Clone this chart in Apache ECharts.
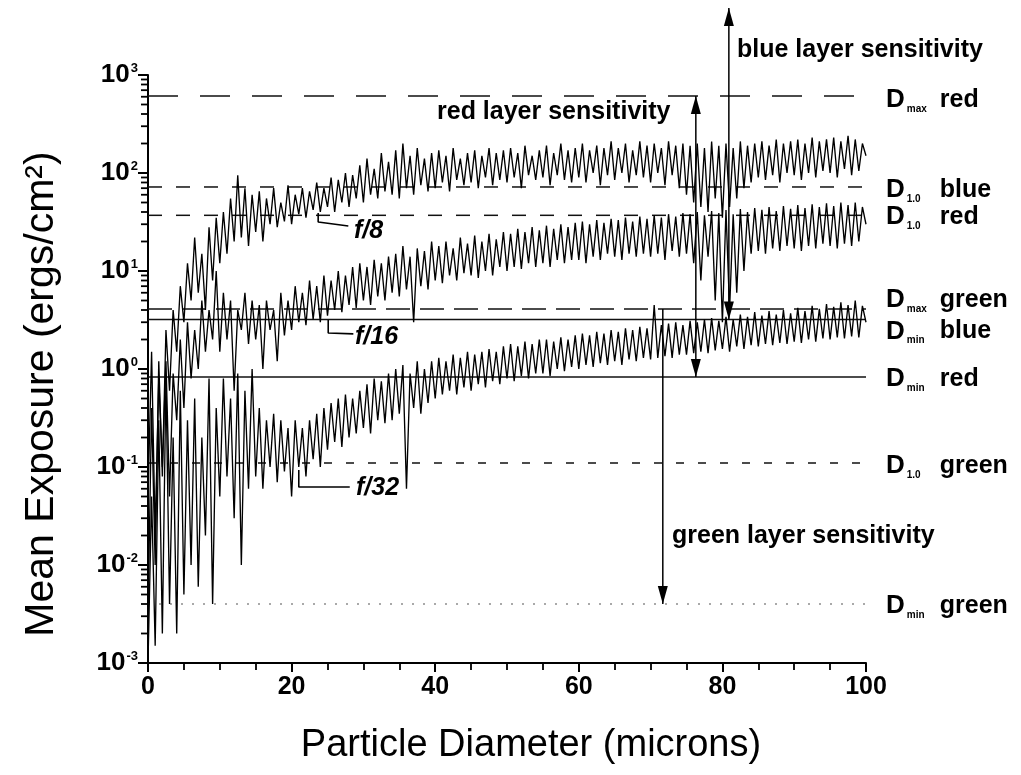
<!DOCTYPE html>
<html><head><meta charset="utf-8">
<script src="https://cdn.jsdelivr.net/npm/echarts@6/dist/echarts.min.js"></script>
<style>html,body{margin:0;padding:0;background:#fff}#c{width:1021px;height:775px}</style>
</head><body><div id="c"></div><script>
// Particle diameter sampling (microns between successive readings)
const diameterStep = 0.5;

// Mean exposure (ergs/cm^2), diameters 0, 0.5, 1 ... 100
const f8 = [
 0.003,0.4,0.01,1.2,0.08,2.5,0.6,4,1.5,7,
 3,12,5,22,6,15,4,28,8,35,
 12,40,15,55,20,95,22,70,18,60,
 25,65,20,55,30,70,28,50,32,75,
 30,60,38,70,35,65,42,80,40,70,
 45,90,40,85,50,100,45,95,55,120,
 50,140,60,110,55,160,65,130,60,170,
 55,200,70,150,60,180,75,140,65,160,
 70,170,80,150,65,180,85,140,75,160,
 80,170,70,150,90,180,75,160,85,170,
 80,180,90,160,70,190,95,150,85,170,
 90,190,75,160,95,200,85,170,80,180,
 90,200,80,170,100,190,75,180,95,210,
 85,180,100,200,80,170,95,210,90,190,
 80,200,100,180,75,210,95,190,70,200,
 60,190,50,200,45,180,40,210,55,190,
 35,200,45,180,55,210,70,190,80,200,
 90,210,85,190,95,220,80,200,100,210,
 95,220,85,200,100,230,90,210,105,220,
 100,230,90,210,110,240,95,220,105,200,
 150
];
const f16 = [
 0.05,1.5,0.02,0.8,0.1,1.2,0.05,0.9,0.3,2,
 0.4,3,0.8,2.5,1,5,1.5,4,2,10,
 1.5,6,2,5,0.6,4,2.5,6,1.8,5,
 2,4.5,1,5,2.5,4,1.2,6,2.2,5,
 2.5,7,3,6,2.8,8,3.2,7,3,9,
 3.5,8,4,10,3.8,9,4.5,11,4.2,12,
 5,11,4.5,13,5.5,12,5,14,6,15,
 5.5,18,6.5,14,3,17,7,16,6.5,20,
 8,18,7.5,20,9,17,8,22,9.5,19,
 9,23,8.5,20,10,24,9,21,11,25,
 10,24,11,27,10.5,25,12,28,11,26,
 12,29,11,27,13,30,12,28,13,31,
 13,32,12,30,14,33,13,31,15,34,
 14,33,13,35,15,32,14,36,15,34,
 14,37,15,35,13,38,16,36,14,39,
 15,38,12,40,8,37,14,41,5,39,
 3,42,4,38,6,43,10,40,15,44,
 16,42,15,45,17,41,16,46,18,43,
 17,47,16,44,18,48,17,45,19,49,
 18,46,17,50,19,47,18,50,20,45,
 30
];
const f32 = [
 0.001,0.05,0.0015,0.3,0.002,0.8,0.004,0.2,0.002,0.6,
 0.005,0.3,0.01,0.5,0.006,0.2,0.02,0.8,0.004,0.4,
 0.05,0.8,0.08,0.5,0.03,0.9,0.01,0.6,0.06,1,
 0.08,0.4,0.06,0.3,0.1,0.35,0.07,0.3,0.09,0.25,
 0.05,0.3,0.1,0.25,0.08,0.3,0.12,0.35,0.1,0.4,
 0.15,0.45,0.18,0.5,0.16,0.55,0.2,0.5,0.22,0.6,
 0.25,0.7,0.22,0.8,0.3,0.75,0.28,0.9,0.3,1,
 0.35,1.1,0.06,0.9,0.4,1.2,0.35,1,0.45,1.2,
 0.5,1.3,0.55,1.2,0.6,1.4,0.55,1.3,0.65,1.5,
 0.6,1.4,0.7,1.5,0.65,1.6,0.75,1.5,0.7,1.7,
 0.8,1.8,0.75,1.7,0.85,1.9,0.8,1.8,0.9,2,
 0.9,2,0.85,1.9,1,2.1,0.95,2,1.05,2.2,
 1,2.3,1.1,2.2,1.05,2.4,1.15,2.3,1.1,2.5,
 1.2,2.4,1.1,2.6,1.25,2.5,1.2,2.7,1.3,2.6,
 1.25,4.5,1.3,2.8,1.35,2.9,1.3,3,1.4,2.8,
 1.4,3.1,1.45,3,1.5,3.2,1.45,3.3,1.55,3.1,
 1.6,3.4,1.5,3.2,1.7,3.6,1.6,3.4,1.75,3.8,
 1.7,3.5,1.8,3.9,1.75,3.6,1.85,4,1.8,3.7,
 1.9,4.2,1.85,3.9,2,4.4,1.9,4.1,2.05,4.6,
 2,4.3,2.1,4.8,2.05,4.5,2.15,5,2.1,4.4,
 3
];

// Density levels (horizontal reference lines)
const levelNames = ['red','blue','red','green','blue','red','green','green'];
const levelSubs  = ['max','1.0','1.0','max','min','min','1.0','min'];
const levelValues = [611, 72, 37, 4.1, 3.2, 0.83, 0.11, 0.004];

// Tick labels
const xTickValues = [0,20,40,60,80,100];
const yTickExponents = [-3,-2,-1,0,1,2,3];

// Layer sensitivity arrows: [diameter, from exposure, to exposure]
const redArrow = [76.3, 0.83, 611];
const blueArrow = [80.9, 3.2, 4830];
const greenArrow = [71.7, 4.1, 0.004];

// Curve leaders (data coordinates)
const leader8 = [[23.7, 39], [23.7, 31.6], [27.9, 28.8]];
const leader16 = [[25.1, 3.16], [25.1, 2.33], [28.6, 2.28]];
const leader32 = [[21.0, 0.093], [21.0, 0.0625], [28.1, 0.0625]];

const FONT = 'Liberation Sans';
const dashes = [[30,22],[14,14],[14,14],[24,10],'solid','solid',[8,14],[2,9]];
const widths = [1.5,1.5,1.5,1.5,1.6,1.6,1.5,1.2];
const colors = ['#111','#111','#111','#111','#111','#111','#111','#555'];

const chart = echarts.init(document.getElementById('c'), null, {renderer:'canvas'});

// minor log ticks 2..9 of each decade
const minorY = [];
for (let k = -3; k < 3; k++) for (let m = 2; m <= 9; m++) minorY.push(m * Math.pow(10, k));

function curve(arr){ return arr.map((v,i)=>[i*diameterStep, v]); }

const series = [];
[f8, f16, f32].forEach((arr, idx) => {
  series.push({type:'line', name:['f/8','f/16','f/32'][idx], data: curve(arr), showSymbol:false,
    symbol:'none', lineStyle:{color:'#000', width:1.35}, animation:false, silent:true, z:3});
});
levelValues.forEach((v, i) => {
  series.push({type:'line', data:[[0,v],[100,v]], showSymbol:false, symbol:'none',
    lineStyle:{color:colors[i], width:widths[i], type:dashes[i]}, animation:false, silent:true, z:2});
});
[leader8, leader16, leader32].forEach(l => {
  series.push({type:'line', data:l, showSymbol:false, symbol:'none',
    lineStyle:{color:'#000', width:1.6}, animation:false, silent:true, z:4});
});

chart.setOption({
  backgroundColor:'#fff',
  animation:false,
  grid:{left:148, top:75, width:718, height:588, outerBoundsMode:'none', containLabel:false},
  xAxis:{type:'value', min:0, max:100, interval:20,
    axisLine:{lineStyle:{color:'#000', width:2}},
    axisTick:{show:true, length:9, lineStyle:{color:'#000', width:2}},
    minorTick:{show:true, splitNumber:4, length:7, lineStyle:{color:'#000', width:1.8}},
    splitLine:{show:false},
    axisLabel:{margin:12, color:'#000', fontFamily:FONT, fontWeight:'bold', fontSize:25,
      customValues: xTickValues, formatter:v=>String(v)}
  },
  yAxis:{type:'log', logBase:10, min:0.001, max:1000,
    axisLine:{show:true, lineStyle:{color:'#000', width:2}},
    axisTick:{show:true, length:10, lineStyle:{color:'#000', width:2}},
    splitLine:{show:false},
    axisLabel:{margin:10, color:'#000', fontFamily:FONT,
      customValues: yTickExponents.map(e=>Math.pow(10,e)),
      formatter: v => '{b|10}{s|' + Math.round(Math.log10(v)) + '}',
      rich:{b:{fontSize:26, fontWeight:'bold', fontFamily:FONT, color:'#000', lineHeight:26},
            s:{fontSize:13, fontWeight:'bold', fontFamily:FONT, color:'#000', verticalAlign:'top', lineHeight:26, padding:[0,0,12,1]}}}
  },
  series: series
});

function px(x, y){ return chart.convertToPixel({gridIndex:0}, [x, y]); }

const g = [];
// minor y ticks placed through the y axis scale
minorY.forEach(v => {
  const p = px(0, v);
  g.push({type:'line', shape:{x1:p[0]-7, y1:p[1], x2:p[0], y2:p[1]}, style:{stroke:'#000', lineWidth:1.8}, z:9, silent:true});
});

function arrow(a, headFrom, headTo){
  const p1 = px(a[0], a[1]), p2 = px(a[0], a[2]);
  g.push({type:'line', shape:{x1:p1[0], y1:p1[1], x2:p2[0], y2:p2[1]}, style:{stroke:'#000', lineWidth:1.5}, z:10});
  function head(tip, other){
    const dir = tip[1] < other[1] ? 1 : -1;
    const L = 18, W = 5;
    g.push({type:'polygon', shape:{points:[[tip[0], tip[1]], [tip[0]-W, tip[1]+dir*L], [tip[0]+W, tip[1]+dir*L]]},
      style:{fill:'#000'}, z:11});
  }
  if (headFrom) head(p1, p2);
  if (headTo) head(p2, p1);
}
arrow(redArrow, true, true);
arrow(blueArrow, true, true);
arrow(greenArrow, false, true);

const labelOffsets = [4, 3, 2, -9, 12, 2, 3, 2];
levelValues.forEach((v, i) => {
  const p = px(100, v);
  g.push({type:'text', x:886, y:p[1] + labelOffsets[i], z:12,
    style:{text:'{d|D}{s|' + levelSubs[i] + '}{w|' + levelNames[i] + '}', verticalAlign:'middle', align:'left',
      rich:{d:{fontSize:26, fontWeight:'bold', fontFamily:FONT, fill:'#000', lineHeight:28},
            s:{fontSize:10, fontWeight:'bold', fontFamily:FONT, fill:'#000', width:33, verticalAlign:'bottom', lineHeight:28, padding:[10,0,0,2]},
            w:{fontSize:25, fontWeight:'bold', fontFamily:FONT, fill:'#000', lineHeight:28}}}});
});

function txt(t, x, y, size, italic){
  g.push({type:'text', x:x, y:y, z:12,
    style:{text:t, fontSize:size, fontWeight:'bold', fontStyle: italic ? 'italic' : 'normal', fontFamily:FONT, fill:'#000', verticalAlign:'middle', align:'left'}});
}
txt('red layer sensitivity', 437, 112, 25);
txt('blue layer sensitivity', 737, 50, 25);
txt('green layer sensitivity', 672, 536, 25);
txt('f/8', 354, 231, 25, true);
txt('f/16', 355, 337, 25, true);
txt('f/32', 356, 488, 25, true);

g.push({type:'text', x:531, y:746, z:12, style:{text:'Particle Diameter (microns)', fontSize:38, fontFamily:FONT, fill:'#000', align:'center', verticalAlign:'middle'}});
g.push({type:'text', x:42, y:394, rotation:Math.PI/2, z:12, style:{text:'Mean Exposure (ergs/cm²)', fontSize:41, fontFamily:FONT, fill:'#000', align:'center', verticalAlign:'middle'}});

chart.setOption({graphic:{elements:g}});
</script></body></html>
